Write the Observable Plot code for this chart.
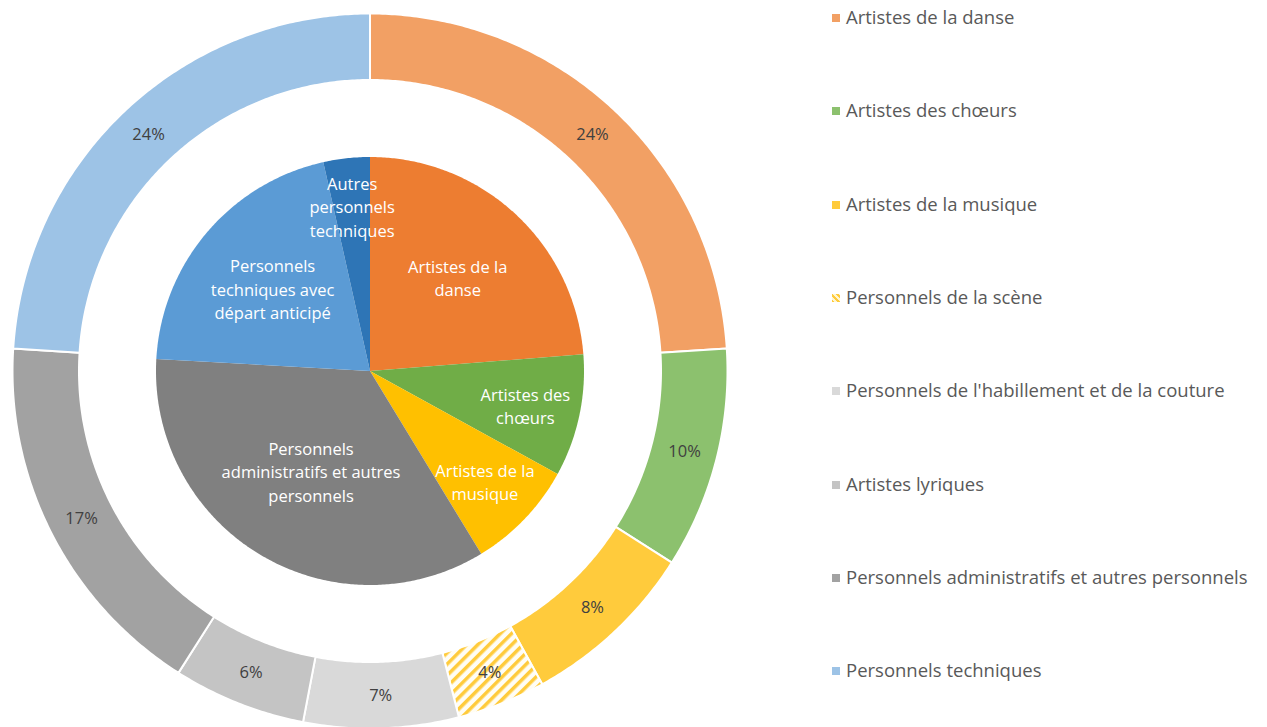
<!DOCTYPE html>
<html>
<head>
<meta charset="utf-8">
<script src="https://cdn.jsdelivr.net/npm/d3@7"></script>
<script src="https://cdn.jsdelivr.net/npm/@observablehq/plot@0.6"></script>
<style>
  html, body { margin: 0; padding: 0; background: #fff; }
  #wrap { position: relative; width: 1267px; height: 727px; overflow: hidden; font-family: "Open Sans", Lato, sans-serif; }
  #chart { position: absolute; left: 0; top: 0; }
  #legend { position: absolute; left: 832px; top: 0; }
  .item { position: absolute; left: 0; white-space: nowrap; color: #595959; font-size: 18.5px; line-height: 20px; }
  .sw { display: inline-block; width: 8px; height: 8px; margin-right: 6px; vertical-align: 2px; }
</style>
</head>
<body>
<svg width="0" height="0" style="position:absolute">
  <defs>
    <pattern id="hatch" patternUnits="userSpaceOnUse" width="8" height="8" patternTransform="rotate(45)">
      <rect x="0" y="0" width="8" height="8" fill="#fffdf5"></rect>
      <rect x="0" y="0" width="3.5" height="8" fill="#FFCB3C"></rect>
    </pattern>
  </defs>
</svg>
<div id="wrap">
  <div id="chart"></div>
  <div id="legend"></div>
</div>
<script>
// ---- Data ----
const outerNames = [
  "Artistes de la danse",
  "Artistes des chœurs",
  "Artistes de la musique",
  "Personnels de la scène",
  "Personnels de l'habillement et de la couture",
  "Artistes lyriques",
  "Personnels administratifs et autres personnels",
  "Personnels techniques"
];
const outerValues = [24, 10, 8, 4, 7, 6, 17, 24];
const outerColors = ["#F2A064", "#8CC16E", "#FFCB3C", "url(#hatch)", "#D9D9D9", "#C4C4C4", "#A2A2A2", "#9DC3E6"];

const innerNames = [
  "Artistes de la\ndanse",
  "Artistes des\nchœurs",
  "Artistes de la\nmusique",
  "Personnels\nadministratifs et autres\npersonnels",
  "Personnels\ntechniques avec\ndépart anticipé",
  "Autres\npersonnels\ntechniques"
];
const innerValues = [23.75, 9.25, 8.3, 34.6, 20.6, 3.5];
const innerColors = ["#ED7D31", "#70AD47", "#FFC000", "#808080", "#5B9BD5", "#2E75B6"];

// ---- Layout ----
const W = 800, H = 727;
const CX = 370, CY = 371, RPX = 357.5;      // centre and outer radius in px
const OUTER_R1 = 1, OUTER_R0 = 291 / RPX, INNER_R = 214 / RPX;

function sectors(values, colors, r0, r1, ring) {
  const arcs = d3.pie().sort(null)(values);
  const rows = [];
  arcs.forEach((a, i) => {
    const n = Math.max(2, Math.ceil((a.endAngle - a.startAngle) / (Math.PI / 360)));
    for (let k = 0; k <= n; k++) {
      const t = a.startAngle + (a.endAngle - a.startAngle) * k / n;
      rows.push({key: ring + i, color: colors[i],
        x1: r1 * Math.sin(t), y1: r1 * Math.cos(t),
        x2: r0 * Math.sin(t), y2: r0 * Math.cos(t)});
    }
  });
  return {rows, arcs};
}

const outer = sectors(outerValues, outerColors, OUTER_R0, OUTER_R1, "o");
const inner = sectors(innerValues, innerColors, 0, INNER_R, "i");

const outerLabelRows = outer.arcs.map((a, i) => {
  const m = (a.startAngle + a.endAngle) / 2, r = (OUTER_R0 + OUTER_R1) / 2;
  return {x: r * Math.sin(m), y: r * Math.cos(m), text: outerValues[i] + "%"};
});
const innerTotal = d3.sum(innerValues);
const innerLabelRows = inner.arcs.map((a, i) => {
  const m = (a.startAngle + a.endAngle) / 2;
  const f = innerValues[i] / innerTotal;
  const k = f < 0.05 ? 0.78 : f < 0.1 ? 0.74 : f > 0.3 ? 0.54 : 0.6;
  return {x: k * INNER_R * Math.sin(m), y: k * INNER_R * Math.cos(m), text: innerNames[i]};
});

const chart = Plot.plot({
  width: W, height: H,
  margin: 0,
  x: {domain: [-CX / RPX, (W - CX) / RPX], range: [0, W], axis: null},
  y: {domain: [-(H - CY) / RPX, CY / RPX], range: [H, 0], axis: null},
  color: {type: "identity"},
  style: {fontFamily: "'Open Sans', Lato, sans-serif", background: "white"},
  marks: [
    Plot.area(outer.rows, {x1: "x1", y1: "y1", x2: "x2", y2: "y2", z: "key", fill: "color", stroke: "white", strokeWidth: 2}),
    Plot.area(inner.rows, {x1: "x1", y1: "y1", x2: "x2", y2: "y2", z: "key", fill: "color"}),
    Plot.text(outerLabelRows, {x: "x", y: "y", text: "text", fill: "#404040", fontSize: 16.5}),
    Plot.text(innerLabelRows, {x: "x", y: "y", text: "text", fill: "white", fontSize: 16.5, lineHeight: 1.42})
  ]
});
document.getElementById("chart").appendChild(chart);

// ---- Legend ----
const legend = document.getElementById("legend");
outerNames.forEach((name, i) => {
  const div = document.createElement("div");
  div.className = "item";
  div.style.top = (7 + i * 93.3) + "px";
  const sw = document.createElement("span");
  sw.className = "sw";
  if (outerColors[i].startsWith("url")) {
    sw.style.background = "repeating-linear-gradient(45deg, #FFCB3C 0 2px, #fff6d0 2px 4px)";
  } else {
    sw.style.background = outerColors[i];
  }
  div.appendChild(sw);
  div.appendChild(document.createTextNode(name));
  legend.appendChild(div);
});
</script>
</body>
</html>
